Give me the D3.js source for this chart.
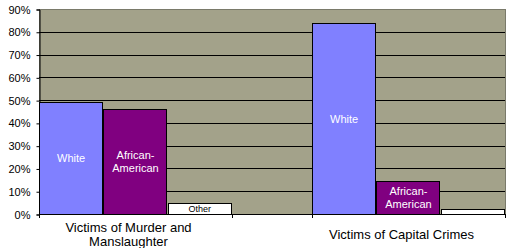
<!DOCTYPE html>
<html>
<head>
<meta charset="utf-8">
<script src="https://cdn.jsdelivr.net/npm/d3@7"></script>
<style>
  html, body { margin: 0; padding: 0; background: #fff; }
  svg { display: block; font-family: "Liberation Sans", Arial, sans-serif; }
</style>
</head>
<body>
<svg id="chart" width="530" height="248"></svg>
<script>
// data
const categories = ["Victims of Murder and Manslaughter", "Victims of Capital Crimes"];
const categoryLines = [["Victims of Murder and", "Manslaughter"], ["Victims of Capital Crimes"]];
const groups = ["White", "African-American", "Other"];
const white = [0.49, 0.837];
const africanAmerican = [0.461, 0.143];
const other = [0.047, 0.021];
const yTicks = [0, 0.1, 0.2, 0.3, 0.4, 0.5, 0.6, 0.7, 0.8, 0.9];

const series = [white, africanAmerican, other];
const fills = ["#8080ff", "#800080", "#ffffff"];
const labelColors = ["#ffffff", "#ffffff", "#000000"];
const barLabels = [["White"], ["African-", "American"], ["Other"]];

const svg = d3.select("#chart");
const plotLeft = 39, plotRight = 505, plotTop = 9, plotBottom = 214;

const x0 = d3.scaleBand().domain(categories).range([plotLeft, plotRight])
    .paddingInner(0.293).paddingOuter(0);
const x1 = d3.scaleBand().domain(groups).range([0, x0.bandwidth()]);
const y = d3.scaleLinear().domain([0, 0.9]).range([plotBottom, plotTop]);

// plot background
svg.append("rect")
    .attr("x", plotLeft + 0.5).attr("y", plotTop + 0.5)
    .attr("width", plotRight - plotLeft).attr("height", plotBottom - plotTop)
    .attr("fill", "#a3a28a")
    .attr("stroke", "#7a7a6a");

// gridlines
svg.append("g")
    .selectAll("line")
    .data(yTicks.filter(d => d > 0 && d < 0.9))
    .join("line")
    .attr("x1", plotLeft).attr("x2", plotRight)
    .attr("y1", d => Math.round(y(d)) + 0.5).attr("y2", d => Math.round(y(d)) + 0.5)
    .attr("stroke", "#000");

// y axis
const yAxis = svg.append("g")
    .attr("transform", `translate(${plotLeft + 0.5},0.5)`)
    .call(d3.axisLeft(y).tickValues(yTicks).tickFormat(d3.format(".0%")).tickSizeOuter(0).tickSize(3).tickPadding(6));
yAxis.select(".domain").attr("stroke", "#000");
yAxis.selectAll(".tick text").attr("font-size", 11).attr("font-family", "Liberation Sans, Arial, sans-serif").attr("fill", "#000");

// bars
const barData = [];
categories.forEach((c, ci) => {
    groups.forEach((g, gi) => {
        barData.push({cat: c, ci: ci, group: g, gi: gi, value: series[gi][ci]});
    });
});

const bars = svg.append("g").selectAll("g")
    .data(barData)
    .join("g");

bars.append("rect")
    .attr("x", d => Math.round(x0(d.cat) + x1(d.group)) + 0.5)
    .attr("y", d => Math.round(y(d.value)) + 0.5)
    .attr("width", d => Math.round(x1.bandwidth()) - 1)
    .attr("height", d => Math.round(plotBottom - y(d.value)))
    .attr("fill", d => fills[d.gi])
    .attr("stroke", "#000");

// bar labels (skip bars too short to hold text)
bars.filter(d => plotBottom - y(d.value) > 8)
    .append("text")
    .attr("text-anchor", "middle")
    .attr("fill", d => labelColors[d.gi])
    .attr("font-size", d => d.gi === 2 ? 9 : 11)
    .each(function(d) {
        const lines = barLabels[d.gi];
        const lh = 13.5;
        const cx = x0(d.cat) + x1(d.group) + x1.bandwidth() / 2;
        const cy = (y(d.value) + plotBottom) / 2;
        const fs = d.gi === 2 ? 9 : 11;
        d3.select(this).selectAll("tspan")
            .data(lines)
            .join("tspan")
            .attr("x", cx)
            .attr("y", (t, i) => cy + (i - (lines.length - 1) / 2) * lh + fs * 0.36)
            .text(t => t);
    });

// x axis line and tick marks at group edges
svg.append("line")
    .attr("x1", plotLeft).attr("x2", plotRight + 0.5)
    .attr("y1", plotBottom + 0.5).attr("y2", plotBottom + 0.5)
    .attr("stroke", "#000");

const edges = [];
categories.forEach(c => { edges.push(x0(c)); edges.push(x0(c) + x0.bandwidth()); });
svg.append("g").selectAll("line")
    .data(edges)
    .join("line")
    .attr("x1", d => Math.round(d) + 0.5).attr("x2", d => Math.round(d) + 0.5)
    .attr("y1", plotBottom).attr("y2", plotBottom + 4)
    .attr("stroke", "#000");

// category labels
svg.append("g").selectAll("text")
    .data(categories)
    .join("text")
    .attr("text-anchor", "middle")
    .attr("font-size", 13)
    .attr("fill", "#000")
    .each(function(c, i) {
        const lines = categoryLines[i];
        const cx = x0(c) + x0.bandwidth() / 2 - 7;
        d3.select(this).selectAll("tspan")
            .data(lines)
            .join("tspan")
            .attr("x", cx)
            .attr("y", (t, j) => 239 + (j - (lines.length - 1) / 2) * 14.5)
            .text(t => t);
    });
</script>
</body>
</html>
